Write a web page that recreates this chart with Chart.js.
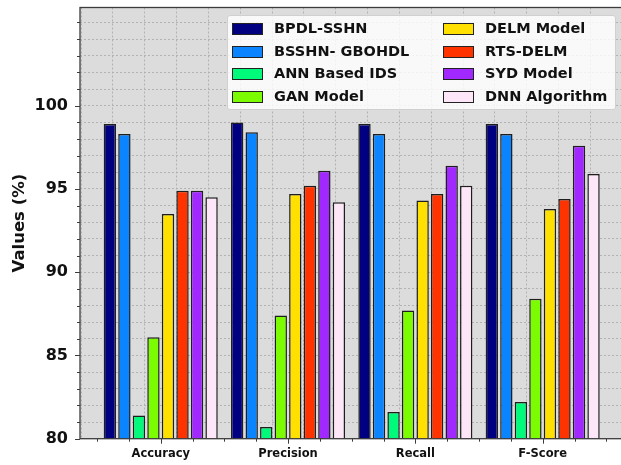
<!DOCTYPE html>
<html>
<head>
<meta charset="utf-8">
<script src="https://cdn.jsdelivr.net/npm/chart.js@4.4.1/dist/chart.umd.min.js"></script>
<style>
  html, body { margin: 0; padding: 0; background: #fff; overflow: hidden; }
  #wrap { position: relative; width: 630px; height: 465px; }
  #legend {
    position: absolute; left: 227px; top: 15px; width: 389px; height: 95px;
    box-sizing: border-box; background: rgba(255,255,255,0.82);
    border: 1px solid #d0d0d0; border-radius: 3px;
    font-family: "DejaVu Sans", sans-serif; font-weight: bold; font-size: 14.5px; color: #111;
  }
  .item { position: absolute; height: 20px; line-height: 20px; white-space: nowrap; }
  .sw { position: absolute; top: 4px; width: 29px; height: 10px; border: 1.5px solid #222; }
  .lbl { position: absolute; left: 42px; top: -1px; }
</style>
</head>
<body>
<div id="wrap">
  <canvas id="c" width="630" height="465"></canvas>
  <div id="legend"></div>
</div>
<script>
// Metric groups along the x axis
const categories = ['Accuracy', 'Precision', 'Recall', 'F-Score'];

// Methods compared, in legend order
const methods = ['BPDL-SSHN', 'BSSHN- GBOHDL', 'ANN Based IDS', 'GAN Model',
                 'DELM Model', 'RTS-DELM', 'SYD Model', 'DNN Algorithm'];
const colors  = ['#000080', '#0a84ff', '#00fa7a', '#7cfc00',
                 '#ffe000', '#ff3300', '#a128ff', '#fde6f7'];

// Scores (%) per method: Accuracy, Precision, Recall, F-Score
const bpdlSshn    = [98.9, 99.0, 98.9, 98.9];
const bsshnGbohdl = [98.3, 98.4, 98.3, 98.3];
const annIds      = [81.4, 80.7, 81.6, 82.2];
const ganModel    = [86.1, 87.4, 87.7, 88.4];
const delmModel   = [93.5, 94.7, 94.3, 93.8];
const rtsDelm     = [94.9, 95.2, 94.7, 94.4];
const sydModel    = [94.9, 96.1, 96.4, 97.6];
const dnnAlgo     = [94.5, 94.2, 95.2, 95.9];
const seriesValues = [bpdlSshn, bsshnGbohdl, annIds, ganModel, delmModel, rtsDelm, sydModel, dnnAlgo];

// Labelled y ticks
const yTickLabels = [80, 85, 90, 95, 100];
const yMin = 80, yMax = 105.9;
const xMin = -0.634, xMax = 3.634;
const xMinorStep = 0.25;

// The bar ruler measures the minor tick spacing (a quarter of a group),
// so the group share is expressed relative to that spacing.
const datasets = methods.map((name, i) => ({
  label: name,
  data: seriesValues[i].map((v, k) => ({ x: k, y: v })),
  backgroundColor: colors[i],
  borderColor: '#1e1e1e',
  borderWidth: 1.5,
  categoryPercentage: 0.913 / xMinorStep,
  barPercentage: 0.85
}));

const frame = {
  id: 'frame',
  beforeDraw(chart) {
    const { ctx, chartArea: a } = chart;
    ctx.save();
    ctx.fillStyle = '#dcdcdc';
    ctx.fillRect(a.left, a.top, a.right - a.left, a.bottom - a.top);
    ctx.restore();
  },
  afterDraw(chart) {
    const { ctx, chartArea: a, scales: { x, y } } = chart;
    ctx.save();
    ctx.strokeStyle = '#3c3c3c';
    ctx.lineWidth = 1.3;
    ctx.strokeRect(a.left, a.top, a.right - a.left, a.bottom - a.top);
    ctx.lineWidth = 1;
    ctx.beginPath();
    x.ticks.forEach(t => {
      const px = Math.round(x.getPixelForValue(t.value)) + 0.5;
      const len = Number.isInteger(t.value) ? 5 : 3;
      ctx.moveTo(px, a.bottom); ctx.lineTo(px, a.bottom + len);
    });
    y.ticks.forEach(t => {
      const py = Math.round(y.getPixelForValue(t.value)) + 0.5;
      const len = yTickLabels.includes(t.value) ? 5 : 3;
      ctx.moveTo(a.left, py); ctx.lineTo(a.left - len, py);
    });
    ctx.stroke();
    ctx.restore();
  }
};

new Chart(document.getElementById('c'), {
  type: 'bar',
  data: { datasets },
  options: {
    responsive: false,
    animation: false,
    layout: { padding: { top: 7.5, right: 6.6, left: 0, bottom: 0 } },
    plugins: { legend: { display: false }, tooltip: { enabled: false } },
    scales: {
      x: {
        type: 'linear',
        offset: false,
        min: xMin, max: xMax,
        afterBuildTicks(axis) {
          const t = [];
          for (let v = -0.5; v <= 3.5 + 1e-9; v += xMinorStep) t.push({ value: Math.round(v * 100) / 100 });
          axis.ticks = t;
        },
        afterFit(axis) { axis.height = 26.3; axis.paddingLeft = 0; axis.paddingRight = 0; },
        ticks: {
          autoSkip: false, maxRotation: 0, padding: 8,
          color: '#111',
          font: { family: 'DejaVu Sans', weight: 'bold', size: 11.5 },
          callback: v => (Number.isInteger(v) && v >= 0 && v < categories.length) ? categories[v] : ''
        },
        grid: { color: '#b2b2b2', lineWidth: 1, drawTicks: false },
        border: { display: false, dash: [2, 2] }
      },
      y: {
        min: yMin, max: yMax,
        afterBuildTicks(axis) {
          const t = [];
          for (let v = 80; v <= 105; v++) t.push({ value: v });
          axis.ticks = t;
        },
        afterFit(axis) { axis.width = 80; axis.paddingTop = 0; axis.paddingBottom = 0; },
        ticks: {
          autoSkip: false, padding: 12,
          color: '#111',
          font: { family: 'DejaVu Sans', weight: 'bold', size: 16 },
          callback: v => yTickLabels.includes(v) ? String(v) : ''
        },
        grid: { color: '#b2b2b2', lineWidth: 1, drawTicks: false },
        border: { display: false, dash: [2, 2] },
        title: {
          display: true, text: 'Values (%)', color: '#111',
          font: { family: 'DejaVu Sans', weight: 'bold', size: 16.5 },
          padding: { top: 10, bottom: 0 }
        }
      }
    }
  },
  plugins: [frame]
});

// Two-column legend, filled column by column
const legend = document.getElementById('legend');
methods.forEach((name, i) => {
  const col = Math.floor(i / 4), row = i % 4;
  const item = document.createElement('div');
  item.className = 'item';
  item.style.left = (col === 0 ? 4 : 215) + 'px';
  item.style.top = (3 + row * 22.7) + 'px';
  const sw = document.createElement('span');
  sw.className = 'sw';
  sw.style.background = colors[i];
  const lbl = document.createElement('span');
  lbl.className = 'lbl';
  lbl.textContent = name;
  item.appendChild(sw); item.appendChild(lbl);
  legend.appendChild(item);
});
</script>
</body>
</html>
